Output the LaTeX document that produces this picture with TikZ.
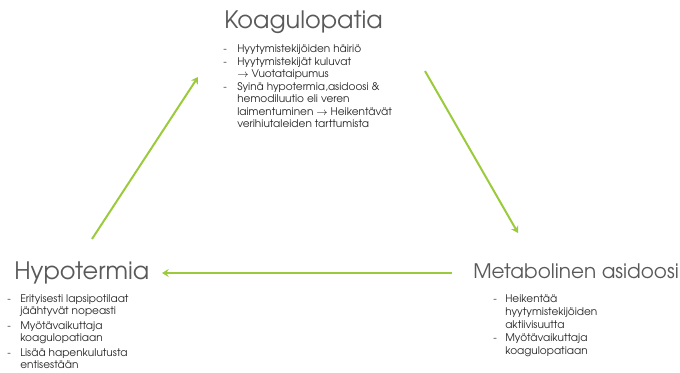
\documentclass[tikz,border=0pt]{standalone}
\usepackage{fontspec}
\setmainfont{TeX Gyre Adventor}
\usetikzlibrary{arrows.meta}
\definecolor{arrowgreen}{HTML}{9BCB3C}
\definecolor{titlegray}{HTML}{595959}
\definecolor{listgray}{HTML}{262626}
\tikzset{
  title/.style={anchor=base west, inner sep=0pt, text=titlegray, font=\fontsize{18}{21}\selectfont},
  bullets/.style={anchor=base west, inner sep=0pt, text=listgray, font=\fontsize{7.9}{9.4}\selectfont},
  cycle arrow/.style={draw=arrowgreen, line width=1.5pt, -{Stealth[length=5pt,width=6pt]}}
}

\begin{document}
\begin{tikzpicture}[x=0.75pt,y=-0.75pt]
\useasboundingbox (0,0) rectangle (680,372);
\node[title] (koag) at (224,28) {Koagulopatia};
\node[title] (hypo) at (14,279) {Hypotermia};
\node[title, font=\fontsize{15}{18}\selectfont] (asid) at (473,278) {Metabolinen asidoosi};
\node[bullets] (koaglist) at (223,52.5) {\begin{tabular}[t]{@{}p{10.5pt}@{}l@{}}
- & Hyytymistekijöiden häiriö\\
- & Hyytymistekijät kuluvat\\
  & $\rightarrow$ Vuotataipumus\\
- & Syinä hypotermia,asidoosi \&\\
  & hemodiluutio eli veren\\
  & laimentuminen $\rightarrow$ Heikentävät\\
  & verihiutaleiden tarttumista
\end{tabular}};
\node[bullets, font=\fontsize{7.9}{9}\selectfont] (hypolist) at (7,302.5) {\begin{tabular}[t]{@{}p{9.75pt}@{}l@{}}
- & Erityisesti lapsipotilaat\\
  & jäähtyvät nopeasti\\[2.2pt]
- & Myötävaikuttaja\\
  & koagulopatiaan\\[2.2pt]
- & Lisää hapenkulutusta\\
  & entisestään
\end{tabular}};
\node[bullets, font=\fontsize{7.9}{9.8}\selectfont] (asidlist) at (493,302.5) {\begin{tabular}[t]{@{}p{9pt}@{}l@{}}
- & Heikentää\\
  & hyytymistekijöiden\\
  & aktiivisuutta\\
- & Myötävaikuttaja\\
  & koagulopatiaan
\end{tabular}};
\coordinate (hypo-out) at (92,239);
\coordinate (koag-in) at (198,77);
\coordinate (koag-out) at (425,71);
\coordinate (asid-in) at (518,233);
\coordinate (asid-out) at (452,273);
\coordinate (hypo-in) at (162,273);
\draw[cycle arrow] (hypo-out) -- (koag-in);
\draw[cycle arrow] (koag-out) -- (asid-in);
\draw[cycle arrow] (asid-out) -- (hypo-in);
\end{tikzpicture}
\end{document}
